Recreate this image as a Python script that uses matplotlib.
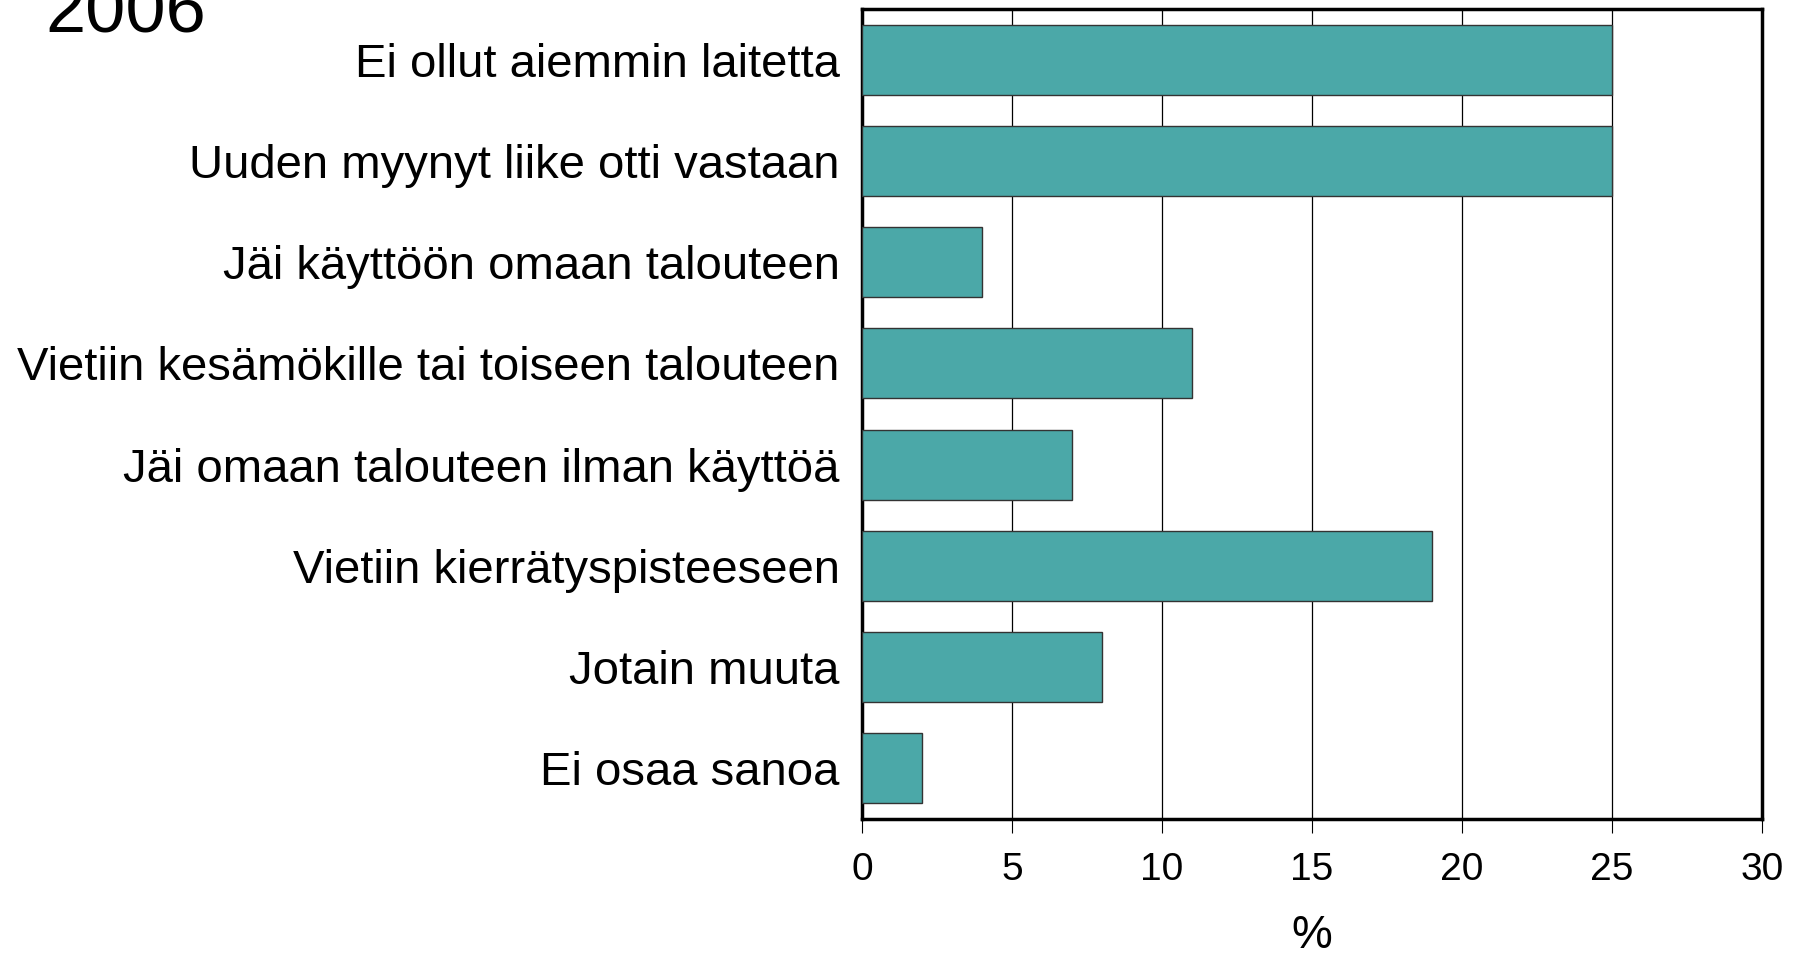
import matplotlib
matplotlib.use("Agg")
import matplotlib.pyplot as plt

plt.rcParams['font.family'] = ['Liberation Sans', 'DejaVu Sans']

categories = [
    "Ei ollut aiemmin laitetta",
    "Uuden myynyt liike otti vastaan",
    "Jäi käyttöön omaan talouteen",
    "Vietiin kesämökille tai toiseen talouteen",
    "Jäi omaan talouteen ilman käyttöä",
    "Vietiin kierrätyspisteeseen",
    "Jotain muuta",
    "Ei osaa sanoa",
]
values = [25, 25, 4, 11, 7, 19, 8, 2]
xticks = [0, 5, 10, 15, 20, 25, 30]
year_label = "2006"
xlabel = "%"

fig = plt.figure(figsize=(17.98, 9.55), dpi=100)
ax = fig.add_axes([862/1798, 1 - 819/955, (1762-862)/1798, (819-9)/955])

ypos = list(range(len(categories)))
ax.barh(ypos, values, height=0.69, color='#4BA8A8', edgecolor='#333333',
        linewidth=1.0, zorder=3)
ax.set_ylim(len(categories) - 0.5, -0.5)
ax.set_xlim(0, 30)
ax.set_xticks(xticks)
ax.set_xticklabels([str(t) for t in xticks], fontsize=28)
ax.set_yticks(ypos)
ax.set_yticklabels(categories, fontsize=34)
ax.tick_params(axis='y', length=0, pad=16)
ax.tick_params(axis='x', length=10, width=0.8, pad=14, direction='out')
ax.xaxis.grid(True, color='black', linewidth=0.9, zorder=0)
ax.set_axisbelow(True)
for s in ax.spines.values():
    s.set_linewidth(2.5)
    s.set_color('black')

fig.text(1312/1798, 1 - 948/955, xlabel, fontsize=33, ha='center', va='baseline')

fig.text(45/1798, 1 - 32/955, year_label, fontsize=52, ha='left', va='baseline')

fig.savefig("out.png", dpi=100)
